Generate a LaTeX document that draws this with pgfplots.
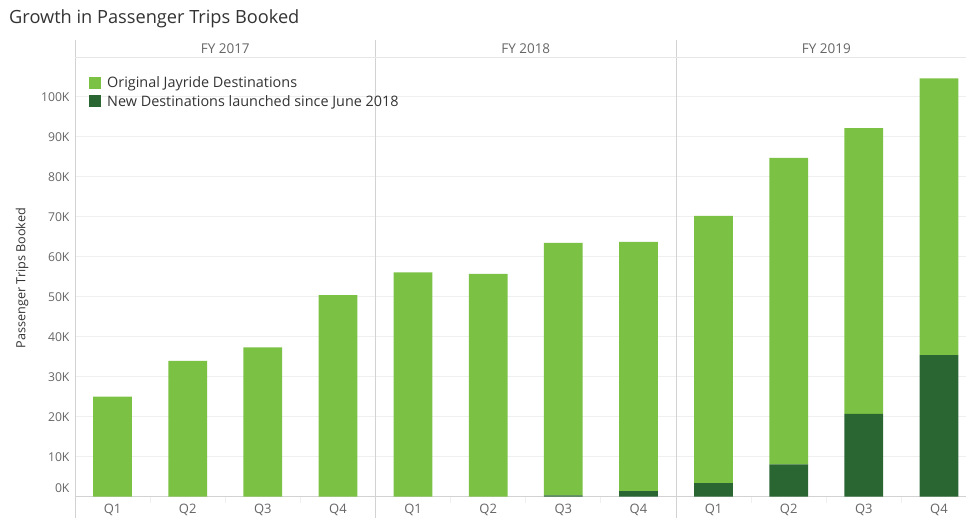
\documentclass[border=0pt]{standalone}
\usepackage{pgfplots}
\pgfplotsset{compat=1.18}
\usepackage{fontspec}
\setmainfont{Open Sans}
\definecolor{lg}{HTML}{7BC143}
\definecolor{dg}{HTML}{2A6632}
\definecolor{txt}{HTML}{666666}
\definecolor{ttl}{HTML}{333333}
\definecolor{gridc}{HTML}{EFEFEF}
\definecolor{sepc}{HTML}{D2D2D2}
\begin{document}
\begin{tikzpicture}
\useasboundingbox (0,0) rectangle (966pt,518pt);
\begin{axis}[
  at={(75pt,21.3pt)}, anchor=south west,
  scale only axis, width=891pt, height=439.2pt,
  xmin=-0.5, xmax=11.36, ymin=0, ymax=109.85,
  ybar stacked, bar width=38.7pt,
  axis line style={draw=none},
  xtick={0,...,11},
  xticklabels={Q1,Q2,Q3,Q4,Q1,Q2,Q3,Q4,Q1,Q2,Q3,Q4},
  ytick={0,10,...,100},
  yticklabels={\raisebox{17pt}{0K},10K,20K,30K,40K,50K,60K,70K,80K,90K,100K},
  major tick length=0pt,
  ymajorgrids, grid style={gridc, line width=0.8pt},
  tick label style={text=txt},
  yticklabel style={font=\fontsize{12.2}{14}\selectfont, xshift=-2pt},
  xticklabel style={font=\fontsize{13}{15}\selectfont, yshift=-4pt},
  clip=false,
  reverse legend,
  legend cell align=left,
  legend style={at={(axis cs:-0.5,109.85)}, anchor=north west, xshift=14pt, yshift=-15pt,
    draw=none, fill=none, font=\fontsize{14.4}{17}\selectfont, text=ttl,
    row sep=2pt, inner xsep=0pt},
]
\addplot[fill=dg, draw=none, legend image code/.code={\fill[dg] (0pt,-6pt) rectangle (12pt,6pt); \path (16pt,0pt);}]
  coordinates {(0,0) (1,0) (2,0) (3,0) (4,0) (5,0) (6,0.3) (7,1.4) (8,3.4) (9,8.1) (10,20.7) (11,35.4)};
\addlegendentry{New Destinations launched since June 2018}
\addplot[fill=lg, draw=none, legend image code/.code={\fill[lg] (0pt,-6pt) rectangle (12pt,6pt); \path (16pt,0pt);}]
  coordinates {(0,25.0) (1,34.0) (2,37.35) (3,50.4) (4,56.1) (5,55.7) (6,63.2) (7,62.35) (8,66.85) (9,76.65) (10,71.5) (11,69.2)};
\addlegendentry{Original Jayride Destinations}

% frame lines
\draw[sepc, line width=0.8pt] (axis cs:-0.5,0) -- (axis cs:11.36,0);
\draw[gridc!70!sepc, line width=0.8pt] (axis cs:-0.5,109.85) -- (axis cs:11.36,109.85);
\draw[sepc, line width=0.8pt] ([yshift=-21.3pt]axis cs:-0.5,0) -- ([yshift=17.5pt]axis cs:-0.5,109.85);
\draw[sepc, line width=0.8pt] ([yshift=-21.3pt]axis cs:3.5,0) -- ([yshift=17.5pt]axis cs:3.5,109.85);
\draw[sepc, line width=0.8pt] ([yshift=-21.3pt]axis cs:7.5,0) -- ([yshift=17.5pt]axis cs:7.5,109.85);
\pgfplotsinvokeforeach{0.5,1.5,2.5,4.5,5.5,6.5,8.5,9.5,10.5}{
  \draw[gridc, line width=0.8pt] (axis cs:#1,0) -- ([yshift=-6pt]axis cs:#1,0);
}
% panel headers
\node[font=\fontsize{13.5}{15}\selectfont, text=txt] at ([yshift=9pt]axis cs:1.5,109.85) {FY 2017};
\node[font=\fontsize{13.5}{15}\selectfont, text=txt] at ([yshift=9pt]axis cs:5.5,109.85) {FY 2018};
\node[font=\fontsize{13.5}{15}\selectfont, text=txt] at ([yshift=9pt]axis cs:9.5,109.85) {FY 2019};
\end{axis}
\node[anchor=west, font=\fontsize{18.2}{22}\selectfont, text=ttl, inner sep=0pt] at (9pt,499pt) {Growth in Passenger Trips Booked};
\node[rotate=90, font=\fontsize{12.6}{15}\selectfont, text=ttl, inner sep=0pt] at (22pt,240pt) {Passenger Trips Booked};
\end{tikzpicture}
\end{document}
